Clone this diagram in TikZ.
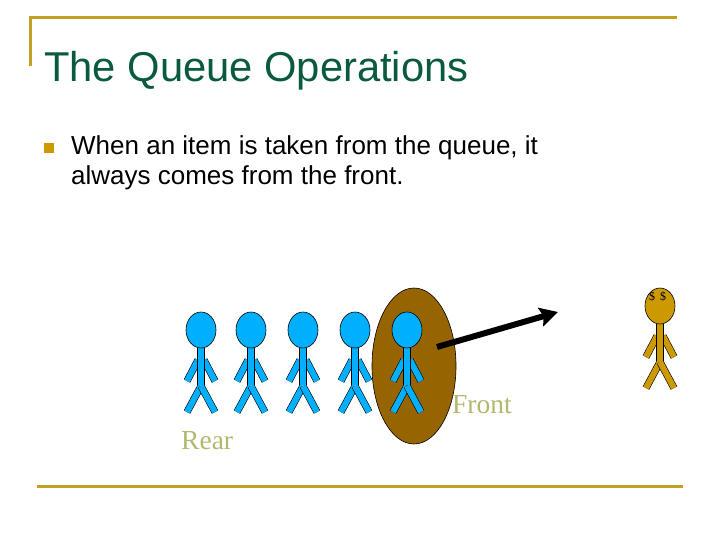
\documentclass[tikz,border=0pt]{standalone}
\usepackage{fontspec}
\setmainfont{Liberation Sans}
\newfontfamily\serifface{Liberation Serif}
\usetikzlibrary{arrows.meta,arrows}
\definecolor{rulegold}{RGB}{196,160,32}
\definecolor{titlegreen}{RGB}{10,90,62}
\definecolor{labelolive}{RGB}{178,184,110}
\definecolor{personblue}{RGB}{0,176,255}
\definecolor{patchbrown}{RGB}{150,100,0}
\definecolor{moneygold}{RGB}{204,153,0}
\tikzset{
  limb/.style={draw=black, double=#1, double distance=6pt, line width=0.6pt},
  label/.style={text=labelolive, font=\serifface\fontsize{27.5}{28}\selectfont, inner sep=0pt},
}
\newcommand{\stickman}[4]{% name, x, top of head, colour
  \draw[limb=#4] (#2-3, #3+30) -- (#2-14, #3+51);
  \draw[limb=#4] (#2+3, #3+30) -- (#2+14, #3+51);
  \draw[limb=#4] (#2, #3+56) -- (#2-14, #3+82);
  \draw[limb=#4] (#2, #3+56) -- (#2+14, #3+82);
  \draw[limb=#4] (#2, #3+18) -- (#2, #3+55);
  \draw[black, line width=0.6pt, fill=#4] (#2, #3) ellipse (15 and 18);
}
\begin{document}
\begin{tikzpicture}[x=1pt,y=-1pt]
    \useasboundingbox (0, 0) rectangle (720, 540);
    % Slide frame
    \draw[rulegold, line width=3pt] (30, 66) -- (30, 18) -- (677, 18);
    \draw[rulegold, line width=3pt] (37, 486) -- (683, 486);
    % Text
    \node[anchor=base west, inner sep=0pt, text=titlegreen, font=\fontsize{41.7}{42}\selectfont] (title) at (44, 82) {The Queue Operations};
    \fill[moneygold] (44, 143) rectangle (54, 153);
    \node[anchor=base west, inner sep=0pt, font=\fontsize{26}{26}\selectfont] (itemone) at (71, 154.5) {When an item is taken from the queue, it};
    \node[anchor=base west, inner sep=0pt, font=\fontsize{26}{26}\selectfont] (itemtwo) at (71, 184.5) {always comes from the front.};
    % Queue
    \draw[black, line width=0.6pt, fill=patchbrown] (414, 366) ellipse (42 and 78);
    \foreach \px/\pn in {201/a, 251/b, 303/c, 355/d, 407/e}
        \stickman{\pn}{\px}{330}{personblue};
    \stickman{out}{660}{306}{moneygold};
    \node[inner sep=0pt, font=\serifface\fontsize{12}{12}\selectfont] (eyeleft) at (652, 297) {\$};
    \node[inner sep=0pt, font=\serifface\fontsize{12}{12}\selectfont] (eyeright) at (663, 297) {\$};
    % Labels
    \node[label, anchor=base west] (front) at (452, 413) {Front};
    \node[label, anchor=base west] (rear) at (181, 449) {Rear};
    % Arrow
    \coordinate (arrowtail) at (437, 347);
    \coordinate (arrowtip) at (558, 312);
    \draw[line width=6pt, -{Stealth[length=18pt,width=19pt,inset=3pt]}] (arrowtail) -- (arrowtip);
\end{tikzpicture}
\end{document}
